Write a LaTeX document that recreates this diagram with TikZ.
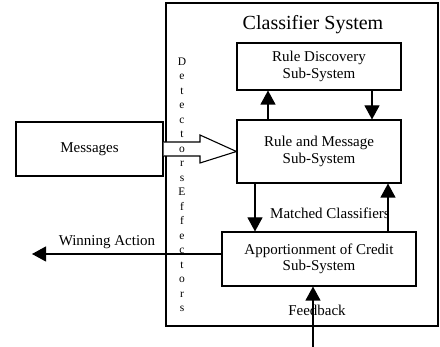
\documentclass[tikz,border=0pt]{standalone}
\usepackage{fontspec}
\setmainfont{Liberation Serif}
\usetikzlibrary{arrows.meta}
\begin{document}
\begin{tikzpicture}[x=1pt,y=-1pt,
  box/.style={draw,line width=1.1pt,inner sep=0pt,align=center,font=\fontsize{15}{16.5}\selectfont},
  lbl/.style={inner sep=0pt,font=\fontsize{15}{16.5}\selectfont},
  arr/.style={line width=1.1pt,-{Triangle[length=14pt,width=15pt]}}]
\useasboundingbox (0,0) rectangle (440,347);
% outer system box
\node[draw,line width=1.1pt,inner sep=0pt,minimum width=272pt,minimum height=323pt] (cs) at (302,164.5) {};
\node[inner sep=0pt,font=\fontsize{20}{24}\selectfont] (title) at (313,25) {Classifier System};
% boxes
\node[box,minimum width=164pt,minimum height=47pt] (rd) at (319,66.5) {Rule Discovery\\Sub-System};
\node[box,minimum width=164pt,minimum height=63pt] (rm) at (319,151.5) {Rule and Message\\Sub-System};
\node[box,minimum width=194pt,minimum height=54pt] (ap) at (319,259) {Apportionment of Credit\\Sub-System};
\node[box,minimum width=147pt,minimum height=54pt] (ms) at (89.5,149) {Messages};
% hollow arrow from Messages
\draw[line width=1.1pt,fill=white] (ms.east |- 0,142) -- (200,142) -- (200,135) -- (rm.west) -- (200,163) -- (200,156) -- (ms.east |- 0,156);
% vertical text
\node[inner sep=0pt,align=center,font=\fontsize{11.5}{14.5}\selectfont] (de) at (182,185)
  {D\\e\\t\\e\\c\\t\\o\\r\\s\\E\\f\\f\\e\\c\\t\\o\\r\\s};
% arrows between subsystems
\draw[arr] (rm.north -| 268,0) -- (rd.south -| 268,0);
\draw[arr] (rd.south -| 372,0) -- (rm.north -| 372,0);
\draw[arr] (rm.south -| 255,0) -- (ap.north -| 255,0);
\draw[arr] (ap.north -| 388,0) -- (rm.south -| 388,0);
\coordinate (wa) at (32,254);
\draw[arr] (ap.west |- wa) -- (wa);
\coordinate (fb) at (313,347);
\draw[arr] (fb) -- (ap.south -| fb);
% labels
\node[lbl] (lwa) at (107,242) {Winning Action};
\node[lbl] (lmc) at (330,213) {Matched Classifiers};
\node[lbl] (lfb) at (317,310) {Feedback};
\end{tikzpicture}
\end{document}
